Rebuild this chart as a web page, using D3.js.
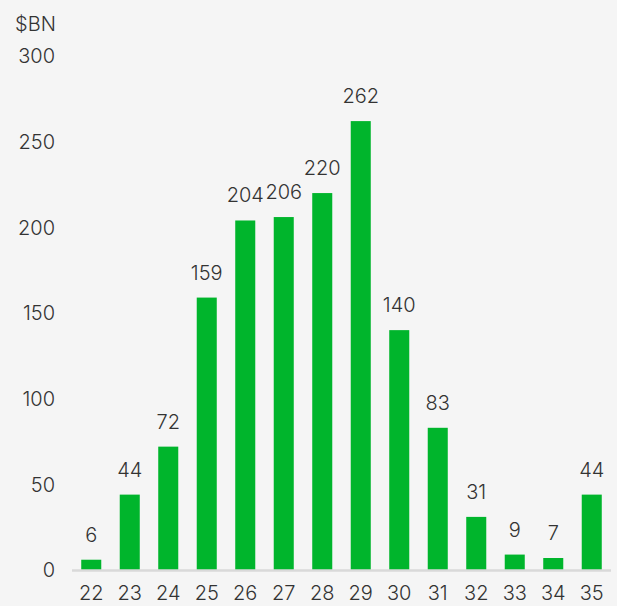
<!DOCTYPE html>
<html>
<head>
<meta charset="utf-8">
<script src="https://cdn.jsdelivr.net/npm/d3@7"></script>
<style>
  html, body { margin: 0; padding: 0; background: #f5f5f5; }
  svg { display: block; }
  text { font-family: "Inter", "Open Sans", sans-serif; font-weight: 300; fill: #333; }
</style>
</head>
<body>
<div id="chart"></div>
<script>
const categories = ["22", "23", "24", "25", "26", "27", "28", "29", "30", "31", "32", "33", "34", "35"];
const values = [6, 44, 72, 159, 204, 206, 220, 262, 140, 83, 31, 9, 7, 44];
const yTicks = [0, 50, 100, 150, 200, 250, 300];
const unitLabel = "$BN";

const W = 617, H = 606;
const svg = d3.select("#chart").append("svg").attr("width", W).attr("height", H);
svg.append("rect").attr("width", W).attr("height", H).attr("fill", "#f5f5f5");

const x = d3.scaleBand().domain(categories).range([72, 611]).paddingInner(0.48).paddingOuter(0.24);
const y = d3.scaleLinear().domain([0, 300]).range([570, 56]);

// y tick labels
svg.append("g").selectAll("text").data(yTicks).join("text")
  .attr("x", 55).attr("y", d => y(d)).attr("dy", "0.36em")
  .attr("text-anchor", "end").attr("font-size", 20)
  .text(d => d);

svg.append("text").attr("x", 15).attr("y", 31).attr("font-size", 20).text(unitLabel);

// bars
svg.append("g").selectAll("rect").data(values).join("rect")
  .attr("x", (d, i) => x(categories[i]))
  .attr("width", x.bandwidth())
  .attr("y", d => y(d))
  .attr("height", d => y(0) - y(d))
  .attr("fill", "#00b52c");

// value labels
svg.append("g").selectAll("text").data(values).join("text")
  .attr("x", (d, i) => x(categories[i]) + x.bandwidth() / 2)
  .attr("y", d => y(d) - 18)
  .attr("text-anchor", "middle").attr("font-size", 20)
  .text(d => d);

// baseline
svg.append("line").attr("x1", 72).attr("x2", 611).attr("y1", y(0) + 0.5).attr("y2", y(0) + 0.5)
  .attr("stroke", "#d9d9d9").attr("stroke-width", 2.5);

// category labels
svg.append("g").selectAll("text").data(categories).join("text")
  .attr("x", d => x(d) + x.bandwidth() / 2)
  .attr("y", 600)
  .attr("text-anchor", "middle").attr("font-size", 20)
  .text(d => d);
</script>
</body>
</html>
